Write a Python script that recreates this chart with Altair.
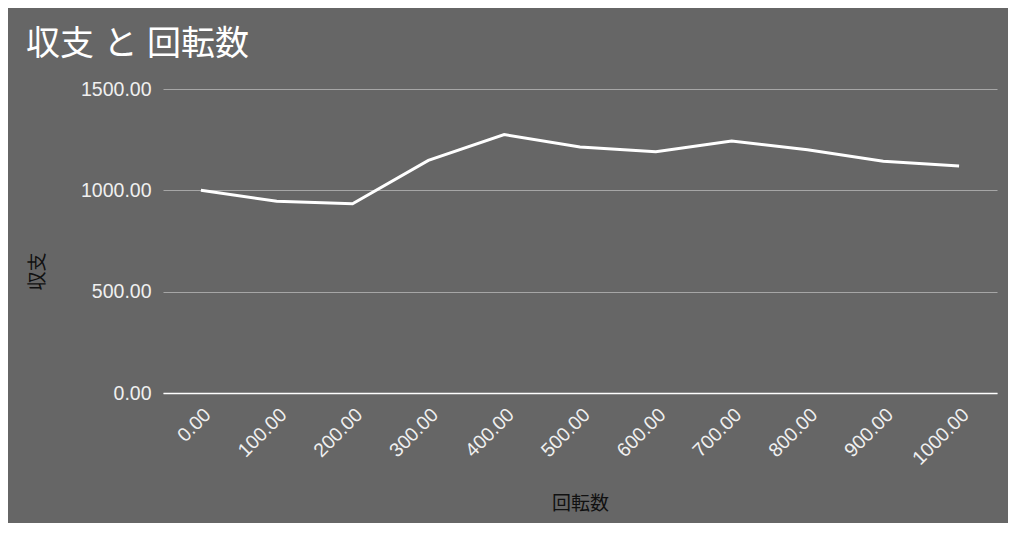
import altair as alt
import pandas as pd

# Data
spins = [0, 100, 200, 300, 400, 500, 600, 700, 800, 900, 1000]
balance = [1000, 946, 934, 1148, 1275, 1214, 1190, 1243, 1200, 1143, 1120]
x_ticks = [0, 100, 200, 300, 400, 500, 600, 700, 800, 900, 1000]
y_ticks = [0, 500, 1000, 1500]

df = pd.DataFrame({"回転数": spins, "収支": balance})

FONT = "'Liberation Sans', Arial, 'Noto Sans CJK JP', sans-serif"
BG = "#666666"

line = alt.Chart(df).mark_line(color="#ffffff", strokeWidth=3).encode(
    x=alt.X(
        "回転数:Q",
        scale=alt.Scale(domain=[-50, 1050], nice=False, zero=False),
        axis=alt.Axis(
            values=x_ticks,
            format=".2f",
            labelAngle=-45,
            grid=False,
            ticks=False,
            domain=True,
            domainColor="#ffffff",
            domainWidth=1.5,
            labelColor="#f0f0f0",
            labelFont=FONT,
            labelFontSize=19.5,
            labelPadding=12,
            labelOffset=0,
            title="回転数",
            titleColor="#111111",
            titleFont=FONT,
            titleFontSize=19,
            titleFontWeight="normal",
            titleY=110,
            titleBaseline="middle",
        ),
    ),
    y=alt.Y(
        "収支:Q",
        scale=alt.Scale(domain=[0, 1500], nice=False),
        axis=alt.Axis(
            values=y_ticks,
            format=".2f",
            grid=True,
            gridColor="#a6a6a6",
            gridWidth=1,
            ticks=False,
            domain=False,
            labelColor="#f0f0f0",
            labelFont=FONT,
            labelFontSize=19.5,
            labelPadding=12,
            title="収支",
            titleColor="#111111",
            titleFont=FONT,
            titleFontSize=19,
            titleFontWeight="normal",
            titleX=-126,
            titleY=182,
            titleAngle=-90,
            titleAlign="center",
            titleBaseline="middle",
        ),
    ),
)

chart = line.properties(
    width=834,
    height=304,
    title=alt.TitleParams(
        "収支 と 回転数",
        anchor="start",
        frame="group",
        dx=-137,
        offset=17,
        font=FONT,
        fontSize=34,
        fontWeight="normal",
        color="#ffffff",
    ),
    background=BG,
    padding={"left": 155, "top": 81, "right": 11, "bottom": 130},
    autosize=alt.AutoSizeParams(type="none"),
).configure_view(stroke=None)

chart.save("out.html", embed_options={"renderer": "svg", "actions": False})
